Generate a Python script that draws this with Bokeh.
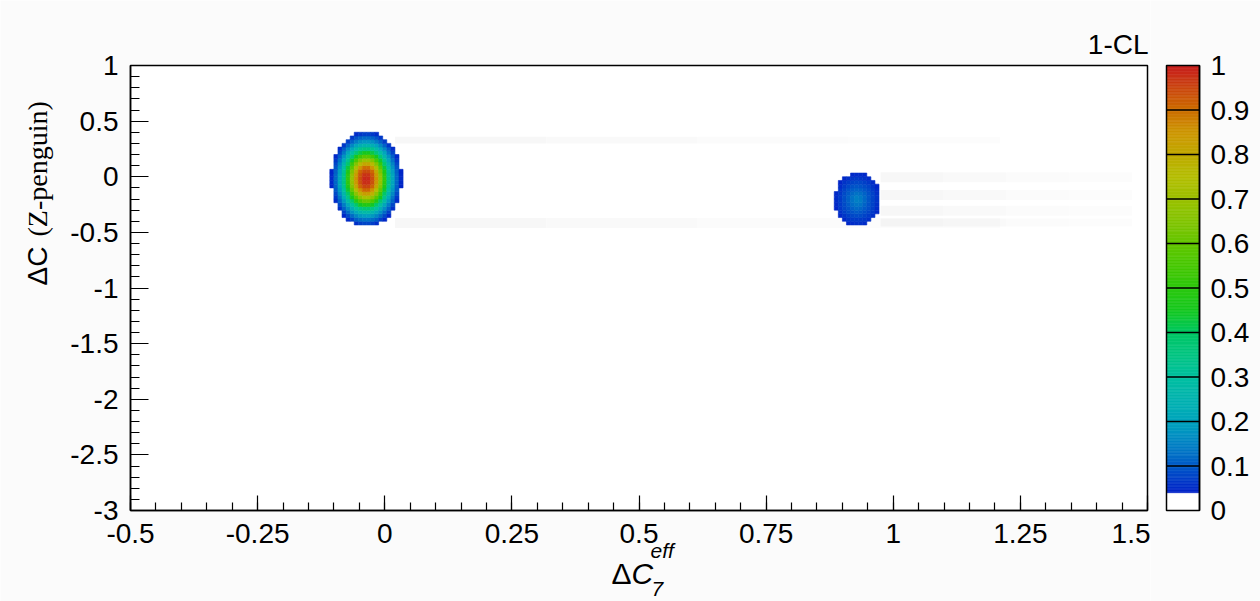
import numpy as np
from bokeh.plotting import figure
from bokeh.models import (ColumnDataSource, LinearColorMapper, SingleIntervalTicker,
                          FixedTicker, CustomJSTickFormatter, Label, LinearAxis)
from bokeh.layouts import row
from bokeh.embed import file_html
from bokeh.resources import INLINE

# ---------------- scan grid ----------------
x_lo, x_hi, n_x = -0.5, 1.5, 250
y_lo, y_hi, n_y = -3.0, 1.0, 120

# ---------------- allowed islands ----------------
island_cx = [-0.036, 0.930]
island_cy = [-0.02, -0.204]
island_ax = [0.069, 0.045]
island_ay = [0.43, 0.240]
island_pow = [2.0, 2.0]

# 1-CL along the axes of each island, at fractions of its half-width
radius_frac = [0.0, 0.12, 0.25, 0.35, 0.45, 0.55, 0.65, 0.75, 0.85, 0.95, 1.0]
cl_main = [1.00, 0.97, 0.90, 0.78, 0.62, 0.46, 0.33, 0.21, 0.13, 0.065, 0.045]
cl_second = [0.15, 0.145, 0.13, 0.115, 0.10, 0.09, 0.08, 0.07, 0.06, 0.05, 0.045]
island_cl = [cl_main, cl_second]

# faint horizontal bands trailing the islands
band_x0 = [0.02, 0.02, 0.975, 0.975, 0.975, 0.975]
band_x1 = [1.21, 1.21, 1.47, 1.47, 1.47, 1.47]
band_y0 = [0.30, -0.46, -0.05, -0.21, -0.35, -0.447]
band_y1 = [0.36, -0.37, 0.04, -0.12, -0.26, -0.375]

# colour-axis levels
cl_lo, cl_hi = 0.0, 1.0
cl_levels = [0.0, 0.1, 0.2, 0.3, 0.4, 0.5, 0.6, 0.7, 0.8, 0.9, 1.0]
x_ticks_step = 0.25
y_ticks_step = 0.5

# ---------------- palette ----------------
stop_v = [0.04, 0.10, 0.15, 0.20, 0.30, 0.40, 0.45, 0.55, 0.65, 0.75, 0.85, 0.90, 1.00]
stop_rgb = [(0, 32, 200), (0, 90, 200), (0, 130, 196), (0, 165, 190), (0, 192, 160),
            (0, 200, 100), (20, 200, 30), (70, 200, 0), (130, 196, 0), (180, 190, 0),
            (205, 150, 0), (205, 110, 0), (200, 30, 30)]
cut = 0.038


def make_palette(n=256):
    out = []
    rs = [c[0] for c in stop_rgb]
    gs = [c[1] for c in stop_rgb]
    bs = [c[2] for c in stop_rgb]
    for i in range(n):
        v = (i + 0.5) / n
        if v < cut:
            out.append("#ffffff")
            continue
        r = int(round(np.interp(v, stop_v, rs)))
        g = int(round(np.interp(v, stop_v, gs)))
        b = int(round(np.interp(v, stop_v, bs)))
        out.append("#%02x%02x%02x" % (r, g, b))
    return out


palette = make_palette()
mapper = LinearColorMapper(palette=palette, low=cl_lo, high=cl_hi)

# ---------------- histogram cells ----------------
xe = np.linspace(x_lo, x_hi, n_x + 1)
ye = np.linspace(y_lo, y_hi, n_y + 1)
xc = 0.5 * (xe[:-1] + xe[1:])
yc = 0.5 * (ye[:-1] + ye[1:])
XX, YY = np.meshgrid(xc, yc)
Z = np.zeros_like(XX)
for cx, cy, ax_, ay_, pw, prof in zip(island_cx, island_cy, island_ax, island_ay,
                                      island_pow, island_cl):
    r = (np.abs((XX - cx) / ax_) ** pw + np.abs((YY - cy) / ay_) ** pw) ** (1.0 / pw)
    val = np.where(r <= 1.0, np.interp(r, radius_frac, prof), 0.0)
    Z = np.maximum(Z, val)

iy, ix = np.nonzero(Z >= cut)
cells = ColumnDataSource(dict(left=xe[ix], right=xe[ix + 1], bottom=ye[iy], top=ye[iy + 1],
                              z=Z[iy, ix]))

# ---------------- layout: each canvas is its frame, boxes sit inside ----------------
W_MAIN, W_BAR, H = 1150, 110, 601
BL, BR, BT, BB = 130, 3, 65, 91          # plot-box margins in pixels
BW = W_MAIN - BL - BR
BH = H - BT - BB
sx = (x_hi - x_lo) / BW
sy = (y_hi - y_lo) / BH


def px_x(px):
    return x_lo + (px - BL) * sx


def px_y(py):
    return y_hi - (py - BT) * sy


BG = "#fbfbfb"
FONT = "Liberation Sans"


def bare_figure(width, xr, yr):
    f = figure(width=width, height=H, x_range=xr, y_range=yr, title=None,
               output_backend="svg", toolbar_location=None,
               min_border_left=0, min_border_right=0, min_border_top=0,
               min_border_bottom=0)
    f.background_fill_color = BG
    f.border_fill_color = BG
    f.outline_line_color = None
    f.grid.visible = False
    return f


def style_axis(axis, maj, mnr, stand):
    axis.axis_line_color = "black"
    axis.axis_line_width = 1.5
    axis.major_tick_in = maj
    axis.major_tick_out = 0
    axis.minor_tick_in = mnr
    axis.minor_tick_out = 0
    axis.major_tick_line_color = "black"
    axis.major_tick_line_width = 1.2
    axis.minor_tick_line_color = "black"
    axis.minor_tick_line_width = 1.2
    axis.major_label_text_font = FONT
    axis.major_label_text_font_size = "28px"
    axis.major_label_text_color = "black"
    axis.major_label_standoff = stand


p = bare_figure(W_MAIN, (px_x(0), px_x(W_MAIN)), (px_y(H), px_y(0)))

# plot box
p.quad(left=[x_lo], right=[x_hi], bottom=[y_lo], top=[y_hi],
       fill_color="white", line_color="black", line_width=1.5)

# trailing bands, fading to the right
fade = [0.03, 0.024, 0.017, 0.01]
for k, a in enumerate(fade):
    x0 = [l + (r - l) * k / len(fade) for l, r in zip(band_x0, band_x1)]
    x1 = [l + (r - l) * (k + 1) / len(fade) for l, r in zip(band_x0, band_x1)]
    p.quad(left=x0, right=x1, bottom=band_y0, top=band_y1,
           fill_color="black", fill_alpha=a, line_color=None)

p.quad(left="left", right="right", bottom="bottom", top="top", source=cells,
       fill_color={"field": "z", "transform": mapper},
       line_color={"field": "z", "transform": mapper}, line_width=0.6)

fmt = CustomJSTickFormatter(code="return String(Math.round(tick*100)/100);")
p.xaxis.ticker = SingleIntervalTicker(interval=x_ticks_step, num_minor_ticks=5)
p.yaxis.ticker = SingleIntervalTicker(interval=y_ticks_step, num_minor_ticks=5)
p.xaxis.fixed_location = y_lo
p.yaxis.fixed_location = x_lo
p.xaxis.bounds = (x_lo, x_hi)
p.yaxis.bounds = (y_lo, y_hi)
p.xaxis.formatter = fmt
p.yaxis.formatter = fmt
style_axis(p.xaxis[0], 15, 8, 13)
style_axis(p.yaxis[0], 18, 9, 12)


def add_text(px, py, text, size, style="normal", font=FONT, angle=0.0, align="left"):
    p.add_layout(Label(x=px_x(px), y=px_y(py), text=text, angle=angle,
                       text_align=align, text_baseline="alphabetic",
                       text_font=font, text_font_size=size, text_font_style=style,
                       text_color="black"))


# z title
add_text(1148, 44, "1-CL", "28px", align="right")
# x title
add_text(611, 573, "\u0394", "30px")
add_text(631, 573, "C", "30px", "italic")
add_text(651, 588, "7", "21px", "italic")
add_text(650, 550, "eff", "21px", "italic")
# y title
add_text(37, 285, "\u0394C", "28px", angle=np.pi / 2)
add_text(37, 236, "(Z-penguin)", "28px", font="Liberation Serif", angle=np.pi / 2)

# ---------------- colour bar ----------------
CB_L, CB_W = 16, 33                      # bar left offset and width inside its canvas
cbx = 1.0 / CB_W
cby = (cl_hi - cl_lo) / BH
cb = bare_figure(W_BAR, (-CB_L * cbx, (W_BAR - CB_L) * cbx),
                 (cl_lo - BB * cby, cl_hi + BT * cby))

n_band = 300
edges = np.linspace(cl_lo, cl_hi, n_band + 1)
grad = ColumnDataSource(dict(bottom=edges[:-1], top=edges[1:],
                             z=0.5 * (edges[:-1] + edges[1:])))
cb.quad(left=0, right=1, bottom="bottom", top="top", source=grad,
        fill_color={"field": "z", "transform": mapper},
        line_color={"field": "z", "transform": mapper}, line_width=0.6)
inner = cl_levels[1:-1]
cb.segment(x0=[0] * len(inner), x1=[1] * len(inner), y0=inner, y1=inner,
           line_color="black", line_width=1.5)
cb.quad(left=[0], right=[1], bottom=[cl_lo], top=[cl_hi],
        fill_color=None, line_color="black", line_width=1.5)

cb.xaxis.visible = False
cb.yaxis.visible = False
cax = LinearAxis(ticker=FixedTicker(ticks=cl_levels, minor_ticks=[]),
                 formatter=CustomJSTickFormatter(code="return String(Math.round(tick*10)/10);"),
                 fixed_location=1, bounds=(cl_lo, cl_hi))
style_axis(cax, 0, 0, 11)
cb.add_layout(cax, "right")

layout = row(p, cb, spacing=0)
open("out.html", "w").write(file_html(layout, INLINE))
